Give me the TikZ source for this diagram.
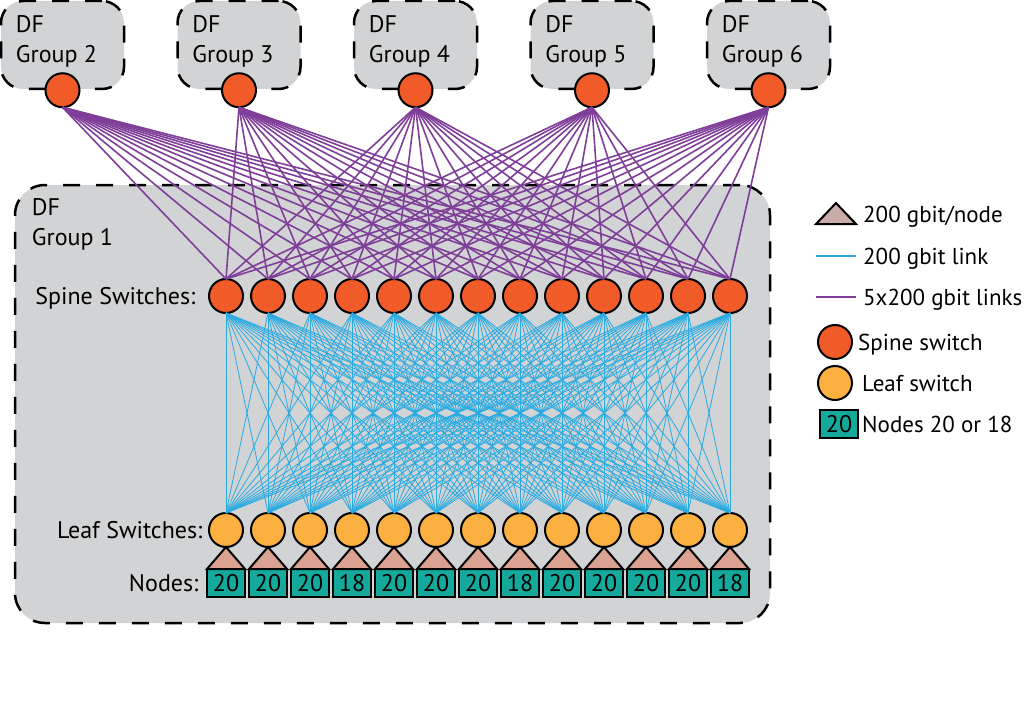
\documentclass[tikz,border=0pt]{standalone}
\usepackage{fontspec}
\setmainfont{PT Sans}
\usepackage{tikz}
\usetikzlibrary{positioning}
\definecolor{dfgray}{HTML}{D1D3D4}
\definecolor{spinered}{HTML}{F15A29}
\definecolor{leaforange}{HTML}{FBB040}
\definecolor{trisalmon}{HTML}{DCA291}
\definecolor{legtri}{HTML}{C9ABA8}
\definecolor{nodeteal}{HTML}{14A99B}
\definecolor{linkblue}{HTML}{29ABE2}
\definecolor{linkpurple}{HTML}{7F3F98}

\begin{document}
\begin{tikzpicture}[x=1pt, y=-1pt,
      font=\fontsize{24}{30}\selectfont,
      groupbox/.style={draw, fill=dfgray, line width=2.5pt, dash pattern=on 17pt off 16pt,
        rounded corners=22pt, inner sep=0pt},
      grouptext/.style={anchor=north west, align=left, inner sep=0pt},
      spine/.style={circle, draw, fill=spinered, line width=2pt, minimum size=34pt,
        inner sep=0pt, outer sep=0pt},
      leaf/.style={spine, fill=leaforange},
      nodebox/.style={draw, fill=nodeteal, line width=2pt, minimum width=38pt,
        minimum height=28pt, inner sep=0pt, outer sep=0pt},
      lab/.style={text depth=0pt},
      legtext/.style={lab, inner sep=0pt, font=\fontsize{23}{28}\selectfont},
      uplink/.style={linkpurple, line width=1.6pt},
      downlink/.style={linkblue, line width=0.8pt}]
      \useasboundingbox (0,0) rectangle (1026,717);

      % other DF groups
      \foreach \g [count=\k from 0] in {2,...,6}{
        \node[groupbox, minimum width=123pt, minimum height=88pt] (B\g) at (62.5+176.5*\k, 45) {};
        \node[grouptext] (T\g) at ([shift={(16,16)}]B\g.north west) {DF\\Group \g};
        \node[spine] (G\g) at (B\g.south) {};
      }

      % DF group 1
      \node[groupbox, minimum width=755pt, minimum height=438pt, rounded corners=30pt] (B1) at (392.5,404) {};
      \node[grouptext] (T1) at ([shift={(18,15)}]B1.north west) {DF\\Group 1};

      \foreach \i in {1,...,13}{
        \node[spine] (S\i) at (184+42*\i, 296) {};
        \node[leaf] (L\i) at (184+42*\i, 530) {};
      }
      \foreach \i/\n in {1/20,2/20,3/20,4/18,5/20,6/20,7/20,8/18,9/20,10/20,11/20,12/20,13/18}{
        \node[nodebox] (N\i) at (184+42*\i, 583) {\n};
        \filldraw[fill=trisalmon, line width=2pt] (L\i.south) -- (N\i.north west) -- (N\i.north east) -- cycle;
      }

      \node[lab, left=10pt of S1] (spinelab) {Spine Switches:};
      \node[lab, left=3pt of L1] (leaflab) {Leaf Switches:};
      \node[lab, left=5pt of N1] (nodelab) {Nodes:};

      % 5x200 gbit links
      \foreach \g in {2,...,6}
        \foreach \i in {1,...,13}
          \draw[uplink] (G\g.south) -- (S\i.north);
      % 200 gbit links
      \foreach \i in {1,...,13}
        \foreach \k in {1,...,13}
          \draw[downlink] (S\i.south) -- (L\k.north);

      % legend
      \filldraw[fill=legtri, line width=2pt] (816,224) -- (856,224) -- (836,203) -- cycle;
      \node[legtext, anchor=west] (legA) at (863,214) {200 gbit/node};
      \coordinate (lb1) at (816,256);
      \coordinate (lb2) at (856,256);
      \draw[downlink, line width=2pt] (lb1) -- (lb2);
      \node[legtext, anchor=west] (legB) at (863,256) {200 gbit link};
      \coordinate (lp1) at (816,297);
      \coordinate (lp2) at (856,297);
      \draw[uplink, line width=2pt] (lp1) -- (lp2);
      \node[legtext, anchor=west] (legC) at (863,297) {5x200 gbit links};
      \node[spine] (legS) at (835,342) {};
      \node[legtext, right=6pt of legS] (legD) {Spine switch};
      \node[leaf] (legL) at (835,383) {};
      \node[legtext, right=10pt of legL] (legE) {Leaf switch};
      \node[nodebox, line width=1.5pt] (legN) at (839,424) {20};
      \node[legtext, right=4pt of legN] (legF) {Nodes 20 or 18};
    \end{tikzpicture}
\end{document}
